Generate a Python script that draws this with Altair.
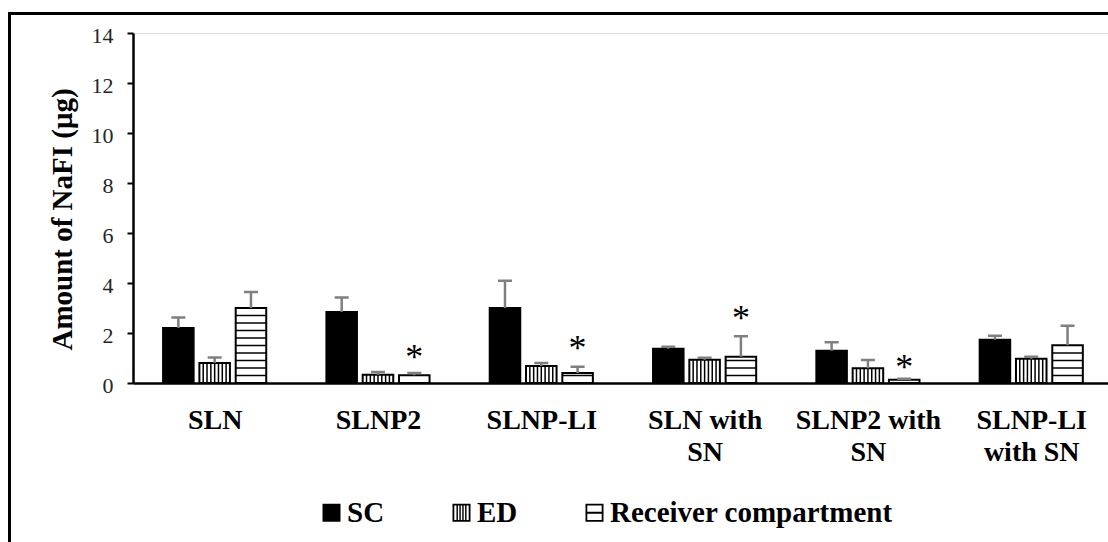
import json
import altair as alt
import pandas as pd

# ---------------- data ----------------
categories = ["SLN", "SLNP2", "SLNP-LI", "SLN with SN", "SLNP2 with SN", "SLNP-LI with SN"]
label_lines = ["SLN", "SLNP2", "SLNP-LI", "SLN with|SN", "SLNP2 with|SN", "SLNP-LI|with SN"]
series = ["SC", "ED", "Receiver compartment"]

sc_mean = [2.20, 2.84, 3.00, 1.37, 1.29, 1.73]
sc_err = [0.42, 0.58, 1.09, 0.08, 0.34, 0.16]
ed_mean = [0.80, 0.33, 0.68, 0.93, 0.59, 0.97]
ed_err = [0.22, 0.11, 0.12, 0.08, 0.33, 0.08]
rec_mean = [3.00, 0.31, 0.40, 1.05, 0.13, 1.51]
rec_err = [0.64, 0.09, 0.25, 0.82, 0.04, 0.78]

star_category = ["SLNP2", "SLNP-LI", "SLN with SN", "SLNP2 with SN"]
star_level = [1.26, 1.61, 2.82, 0.86]

# ---------------- layout constants ----------------
offsets = {"SC": -0.2223, "ED": 0.0, "Receiver compartment": 0.2223}
half = 0.0935
cap_half = 0.043
ed_lines = 8          # intervals of the vertical hatch
rec_step = 0.3        # spacing of the horizontal hatch (data units)

means = {"SC": sc_mean, "ED": ed_mean, "Receiver compartment": rec_mean}
errs = {"SC": sc_err, "ED": ed_err, "Receiver compartment": rec_err}

rows = []
for i, c in enumerate(categories):
    for s in series:
        m = means[s][i]
        e = errs[s][i]
        p = i + offsets[s]
        rows.append(dict(category=c, series=s, pos=p, left=p - half, right=p + half,
                         mean=m, upper=m + e, capl=p - cap_half, capr=p + cap_half))
df = pd.DataFrame(rows)

ed_rows = []
rec_rows = []
for r in rows:
    if r["series"] == "ED":
        for k in range(1, ed_lines):
            ed_rows.append(dict(xs=r["left"] + k * (r["right"] - r["left"]) / ed_lines, top=r["mean"]))
    elif r["series"] == "Receiver compartment":
        k = 1
        while k * rec_step < r["mean"] - 0.08:
            rec_rows.append(dict(left=r["left"], right=r["right"], ys=k * rec_step))
            k += 1
ed_df = pd.DataFrame(ed_rows)
rec_df = pd.DataFrame(rec_rows)

star_df = pd.DataFrame(dict(
    pos=[categories.index(c) + offsets["Receiver compartment"] for c in star_category],
    level=star_level,
))

FONT = "Liberation Serif"

xscale = alt.Scale(domain=[-0.5, 5.47], nice=False, zero=False)
yscale = alt.Scale(domain=[0, 14], nice=False)

label_expr = "split(" + json.dumps(label_lines) + "[round(datum.value)], '|')"

xaxis = alt.Axis(values=list(range(6)), labelExpr=label_expr, title=None, ticks=False, tickSize=0,
                 grid=False, domainColor="black", domainWidth=2.5, labelFont=FONT,
                 labelFontSize=28, labelFontWeight="bold", labelColor="black",
                 labelPadding=23, labelLineHeight=32, labelBaseline="top",
                 labelOverlap=False, labelFlush=False, labelBound=False)

yaxis = alt.Axis(values=list(range(0, 15, 2)), title="Amount of NaFI (μg)", titleFont=FONT,
                 titleFontSize=29, titleFontWeight="bold", titleColor="black",
                 titleAngle=-90, titleX=-62, titleY=186, titleAlign="center",
                 titleBaseline="alphabetic", labelFont=FONT, labelFontSize=22,
                 labelColor="#262626", tickSize=6, tickWidth=2, tickColor="black",
                 domainWidth=2.5, domainColor="black", grid=False, labelPadding=14,
                 labelOffset=2)

frame = alt.Chart(alt.Data(values=[{"f": 1}])).mark_rect(
    fill="transparent", stroke="black", strokeWidth=3
).encode(x=alt.value(-123.5), x2=alt.value(1500), y=alt.value(-19.5), y2=alt.value(1000))

bars = alt.Chart(df).mark_rect(stroke="black", strokeWidth=2).encode(
    x=alt.X("left:Q", scale=xscale, axis=xaxis),
    x2="right:Q",
    y=alt.Y("mean:Q", scale=yscale, axis=yaxis),
    y2=alt.datum(0),
    fill=alt.condition(alt.datum.series == "SC", alt.value("black"), alt.value("white")),
)

ed_hatch = alt.Chart(ed_df).mark_rule(color="black", strokeWidth=1.5).encode(
    x="xs:Q", y="top:Q", y2=alt.datum(0)
)

rec_hatch = alt.Chart(rec_df).mark_rule(color="black", strokeWidth=1.5).encode(
    x="left:Q", x2="right:Q", y="ys:Q"
)

err_line = alt.Chart(df).mark_rule(color="#7f7f7f", strokeWidth=2.5).encode(
    x="pos:Q", y="mean:Q", y2="upper:Q"
)
err_cap = alt.Chart(df).mark_rule(color="#7f7f7f", strokeWidth=2.5).encode(
    x="capl:Q", x2="capr:Q", y="upper:Q"
)

stars = alt.Chart(star_df).mark_text(
    text="*", font=FONT, fontSize=36, color="black", baseline="alphabetic", dy=17
).encode(x="pos:Q", y="level:Q")

sq = "M-1,-1H1V1H-1Z"
ed_path = ("M-1,-1H1V1H-1Z M-0.8,-0.8V0.8H0.8V-0.8Z "
           "M-0.56,-0.8H-0.4V0.8H-0.56Z M-0.24,-0.8H-0.08V0.8H-0.24Z "
           "M0.08,-0.8H0.24V0.8H0.08Z M0.4,-0.8H0.56V0.8H0.4Z")
rec_path = "M-1,-1H1V1H-1Z M-0.8,-0.8V0.8H0.8V-0.8Z M-0.8,-0.1H0.8V0.1H-0.8Z"

legend_layer = alt.Chart(df).mark_point(filled=True, color="black", size=0).encode(
    x="pos:Q", y="mean:Q",
    shape=alt.Shape("series:N", scale=alt.Scale(domain=series, range=[sq, ed_path, rec_path]),
                    legend=alt.Legend(orient="none", legendX=184, legendY=465,
                                      direction="horizontal", title=None, labelFont=FONT,
                                      labelFontSize=29, labelFontWeight="bold",
                                      labelColor="black", symbolSize=324,
                                      symbolFillColor="black", symbolStrokeWidth=0,
                                      symbolOpacity=1,
                                      labelOffset=1, columnPadding=62, labelLimit=0)),
)

chart = alt.layer(frame, bars, ed_hatch, rec_hatch, err_line, err_cap, stars, legend_layer).properties(
    width=975, height=350,
    padding={"left": 133, "top": 33, "right": 0, "bottom": 159},
    autosize=alt.AutoSizeParams(type="none"),
).configure_view(strokeWidth=0).configure(
    font=FONT, background="white"
).configure_legend(labelFont=FONT, labelFontSize=29, labelFontWeight="bold", labelColor="black")

chart.save("out.html", embed_options={"renderer": "svg", "actions": False})
